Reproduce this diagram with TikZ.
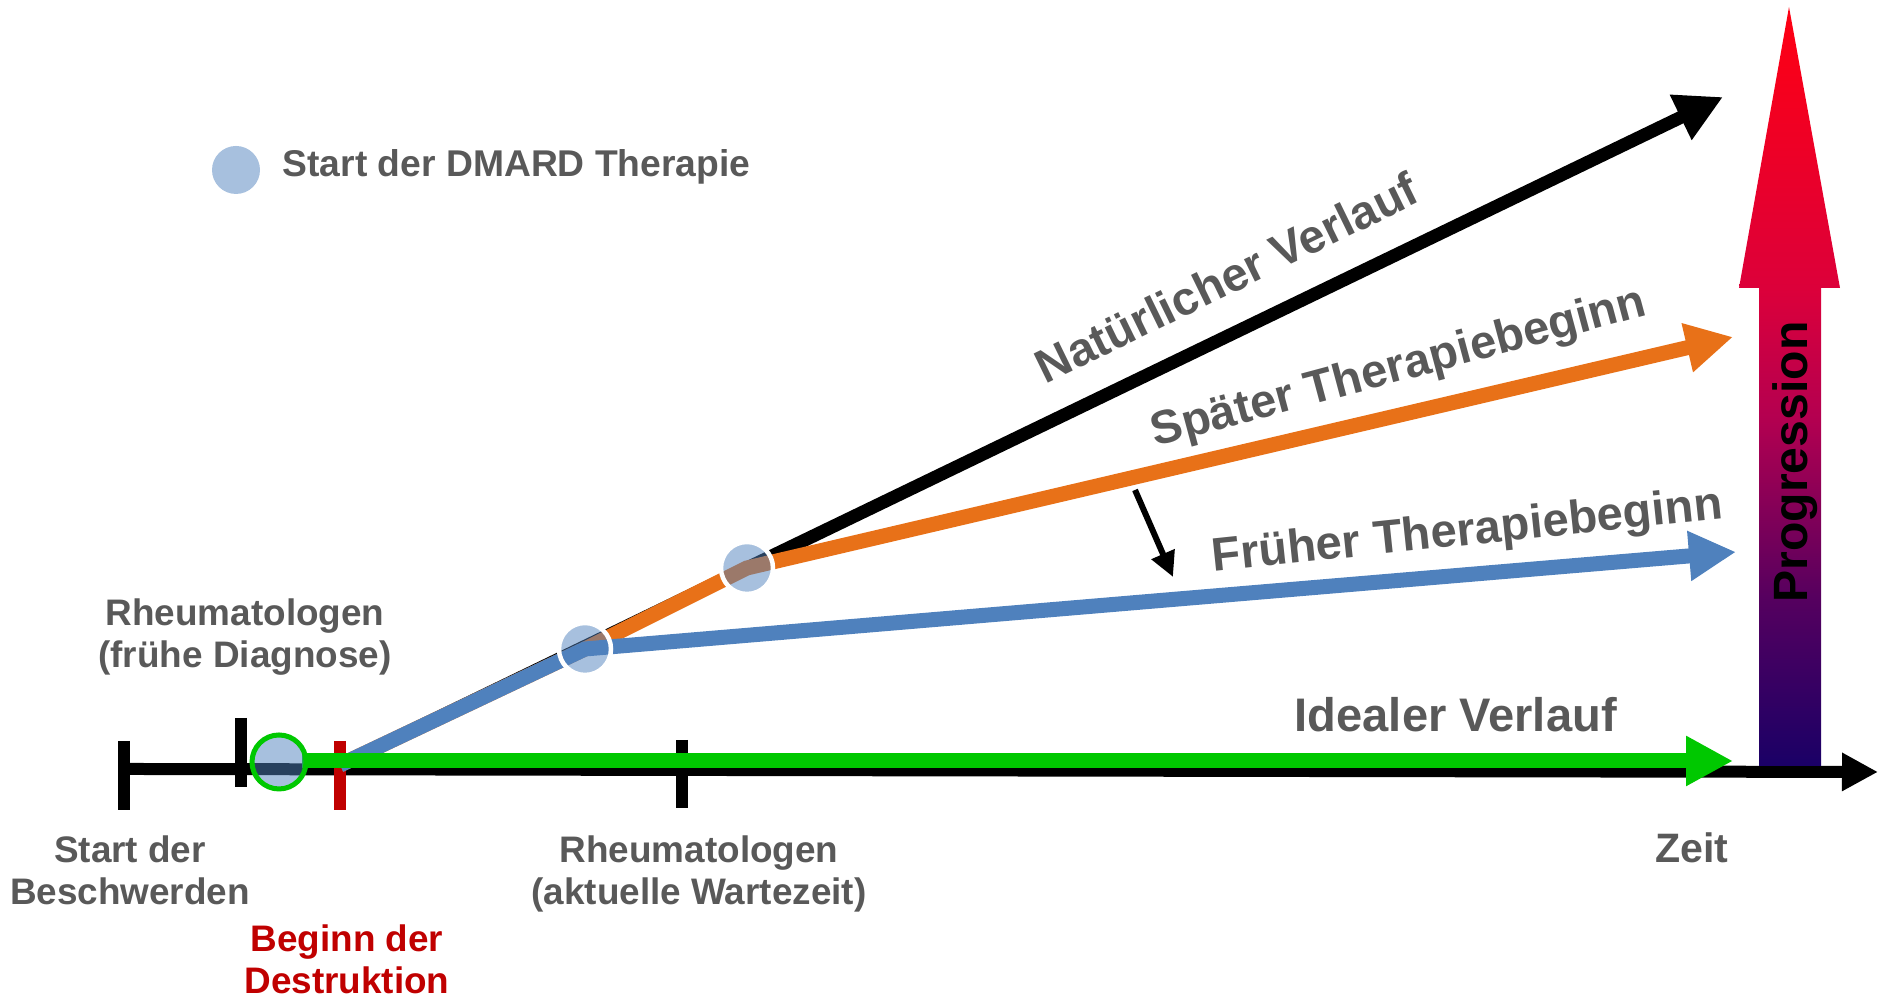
\documentclass[tikz,border=0pt]{standalone}
\usepackage{fontspec}
\setmainfont{Liberation Sans}
\usetikzlibrary{arrows.meta}
\definecolor{txtgray}{HTML}{595959}
\definecolor{destred}{HTML}{C00000}
\definecolor{idealgreen}{HTML}{00C800}
\definecolor{fruehblue}{HTML}{4F81BD}
\definecolor{spaetorange}{HTML}{E87118}
\definecolor{progtop}{HTML}{FF0012}
\definecolor{progA}{HTML}{DC003A}
\definecolor{progB}{HTML}{B40050}
\definecolor{progC}{HTML}{55005F}
\definecolor{progbot}{HTML}{1A0066}
\pgfdeclareverticalshading{progshade}{100bp}{color(0bp)=(progbot); color(25bp)=(progbot); color(36bp)=(progC); color(48bp)=(progB); color(56.5bp)=(progA); color(75bp)=(progtop); color(100bp)=(progtop)}

\begin{document}
\begin{tikzpicture}[
	lbl/.style={font=\bfseries\fontsize{10.5}{12.2}\selectfont, text=txtgray, inner sep=0pt, align=center},
	courselbl/.style={font=\bfseries\fontsize{13.4}{16}\selectfont, text=txtgray, inner sep=0pt, anchor=base west},
	course/.style={line width=0.15cm, -{Triangle[length=0.47cm,width=0.47cm]}},
	markline/.style={line width=0.12cm},
	dmard/.style={circle, fill=fruehblue, fill opacity=0.5, minimum size=0.52cm, inner sep=0pt}]
		
		\useasboundingbox (0,0) rectangle (18.78,10);
		
		% Zeitachse
		\coordinate (axL) at (1.30,2.31);
		\coordinate (axR) at (18.78,2.28);
		\draw[line width=0.12cm, -{Triangle[length=0.36cm,width=0.36cm]}] (axL) -- (axR);
		\draw[markline] (1.24,2.59) -- (1.24,1.90);
		\draw[markline] (2.41,2.82) -- (2.41,2.13);
		\draw[markline] (6.82,2.60) -- (6.82,1.92);
		\draw[markline, destred] (3.40,2.59) -- (3.40,1.90);
		
		% Verlaeufe
		\coordinate (O) at (3.40,2.35);
		\coordinate (c1) at (5.85,3.51);
		\coordinate (c2) at (7.47,4.32);
		\coordinate (natEnd) at (17.23,9.03);
		\coordinate (spaetEnd) at (17.33,6.63);
		\coordinate (fruehEnd) at (17.36,4.48);
		\coordinate (idealStart) at (3.02,2.39);
		\coordinate (idealEnd) at (17.33,2.39);
		\draw[course, line width=0.13cm] (O) -- (c2) -- (natEnd);
		\draw[course, spaetorange] (O) -- (c1) -- (c2) -- (spaetEnd);
		\draw[course, fruehblue] (O) -- (c1) -- (fruehEnd);
		\draw[course, idealgreen] (idealStart) -- (idealEnd);
		
		% Therapiestart
		\node[dmard, draw=idealgreen, line width=0.05cm, minimum size=0.54cm] (diag) at (2.79,2.38) {};
		\node[dmard, draw=white, line width=0.045cm] (frueh) at (c1) {};
		\node[dmard, draw=white, line width=0.045cm] (spaet) at (c2) {};
		
		\coordinate (shiftA) at (11.35,5.10);
		\coordinate (shiftB) at (11.73,4.23);
		\draw[line width=0.06cm, -{Triangle[length=0.25cm,width=0.24cm]}] (shiftA) -- (shiftB);
		
		% Progression
		\shade[shading=progshade] (17.59,2.34) -- (17.59,7.12) -- (17.39,7.12) -- (17.89,9.93) -- (18.40,7.12) -- (18.21,7.12) -- (18.21,2.34) -- cycle;
		\node[rotate=90, anchor=base, inner sep=0pt, font=\bfseries\fontsize{13.7}{16}\selectfont] (prog) at (18.07,5.38) {Progression};
		
		% Legende
		\node[dmard, minimum size=0.48cm] (legdot) at (2.36,8.30) {};
		\node[lbl, anchor=base west, font=\bfseries\fontsize{10.6}{12.2}\selectfont] (legtxt) at (2.82,8.23) {Start der DMARD Therapie};
		
		\node[courselbl, rotate=26] (natLbl) at (10.45,6.15) {Natürlicher Verlauf};
		\node[courselbl, rotate=15] (spaetLbl) at (11.55,5.53) {Später Therapiebeginn};
		\node[courselbl, rotate=6] (fruehLbl) at (12.13,4.28) {Früher Therapiebeginn};
		\node[courselbl] (idealLbl) at (12.94,2.68) {Idealer Verlauf};
		
		\node[lbl, anchor=base] (diagLbl) at (2.45,3.32) {Rheumatologen\\(frühe Diagnose)};
		\node[lbl, anchor=base] (startLbl) at (1.30,0.95) {Start der\\Beschwerden};
		\node[lbl, anchor=base] (wartLbl) at (6.99,0.95) {Rheumatologen\\(aktuelle Wartezeit)};
		\node[lbl, anchor=base, text=destred] (destrLbl) at (3.47,0.06) {Beginn der\\Destruktion};
		\node[lbl, anchor=base, font=\bfseries\fontsize{11.7}{14}\selectfont] (zeitLbl) at (16.92,1.37) {Zeit};
		
		\end{tikzpicture}
\end{document}
